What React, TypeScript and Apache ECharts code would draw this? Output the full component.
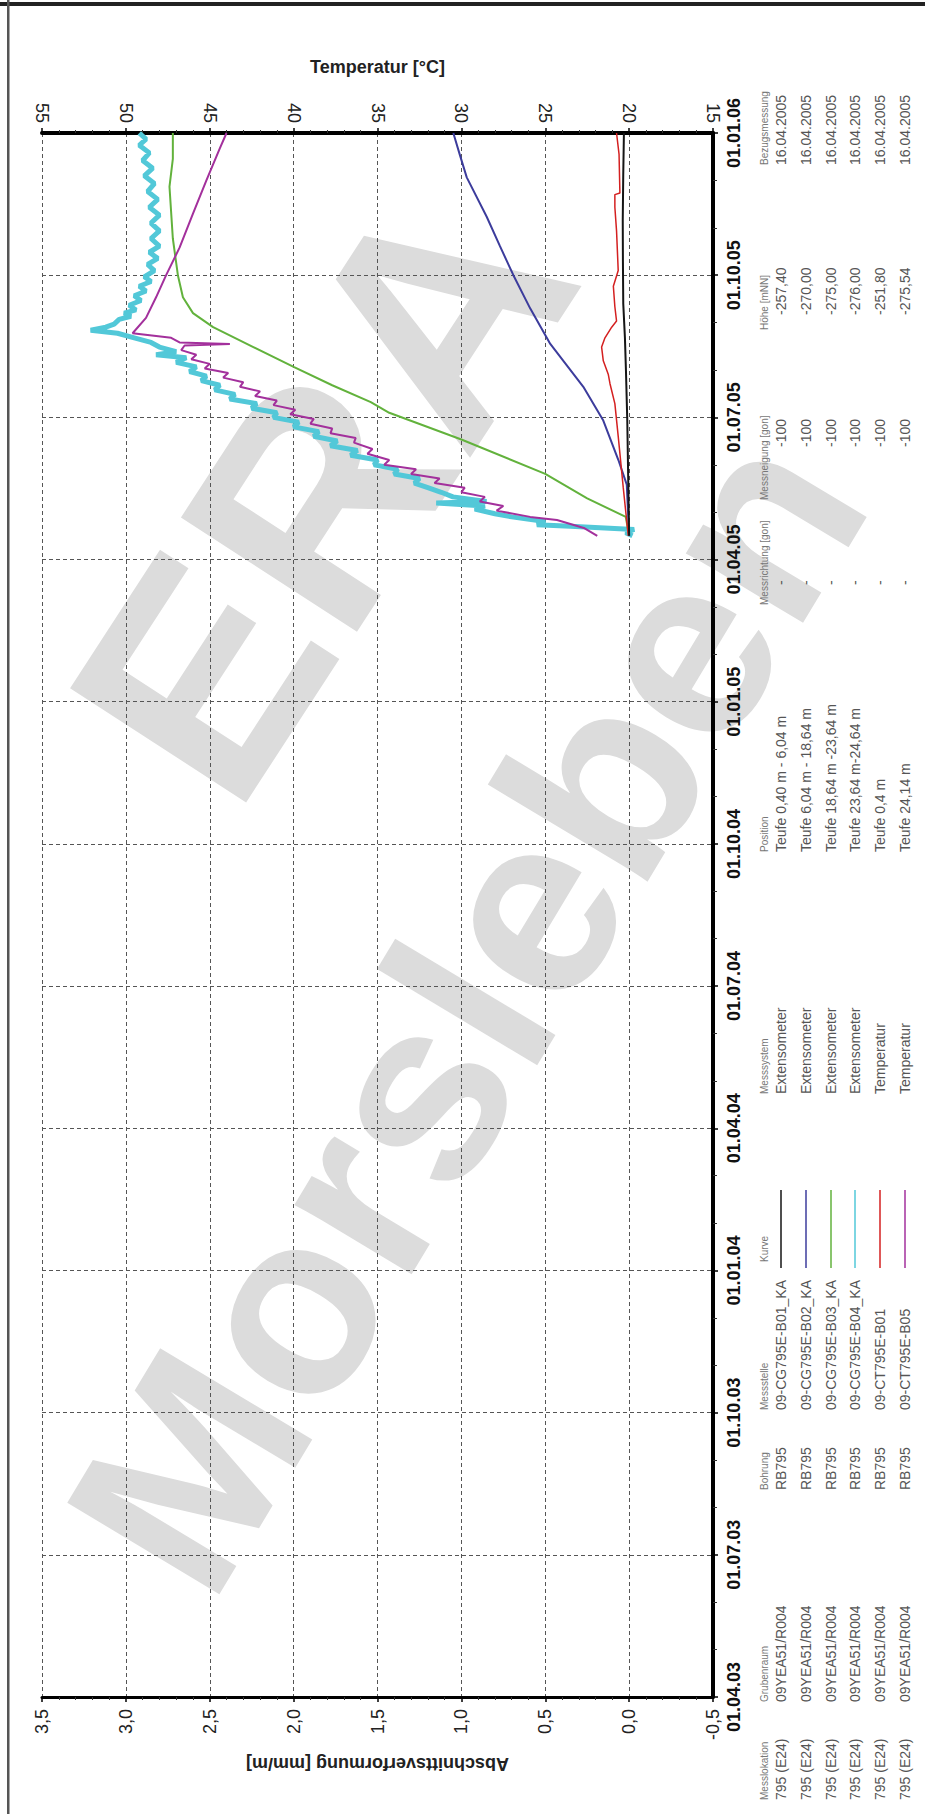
import React, { useEffect, useRef } from 'react';
import * as echarts from 'echarts';

const FONT = "'Liberation Sans', Arial, Helvetica, sans-serif";

// ---- tick labels ----
const dateTickLabels = ['01.04.03', '01.07.03', '01.10.03', '01.01.04', '01.04.04', '01.07.04', '01.10.04', '01.01.05', '01.04.05', '01.07.05', '01.10.05', '01.01.06'];
const strainTickLabels = ['-0,5', '0,0', '0,5', '1,0', '1,5', '2,0', '2,5', '3,0', '3,5'];
const tempTickLabels = ['15', '20', '25', '30', '35', '40', '45', '50', '55'];

// ---- series data: [date, value] ----
// Extensometer B01 (0,40 m - 6,04 m) [mm/m]
const extB01: [string, number][] = [
  ['2005-04-16', 0.0], ['2005-05-20', 0.005], ['2005-06-29', 0.011], ['2005-08-01', 0.019], ['2005-08-22', 0.025],
  ['2005-09-13', 0.035], ['2005-10-10', 0.037], ['2005-11-06', 0.038], ['2005-12-05', 0.035], ['2006-01-01', 0.031],
];
// Extensometer B02 (6,04 m - 18,64 m) [mm/m]
const extB02: [string, number][] = [
  ['2005-04-16', 0.0], ['2005-05-19', 0.014], ['2005-06-04', 0.064], ['2005-06-29', 0.154], ['2005-07-21', 0.273],
  ['2005-08-18', 0.47], ['2005-09-10', 0.59], ['2005-10-01', 0.69], ['2005-10-20', 0.77], ['2005-11-08', 0.849],
  ['2005-12-03', 0.968], ['2005-12-18', 1.01], ['2006-01-01', 1.048],
];
// Extensometer B03 (18,64 m - 23,64 m) [mm/m]
const extB03: [string, number][] = [
  ['2005-04-16', 0.0], ['2005-04-28', 0.02], ['2005-05-10', 0.25], ['2005-05-26', 0.5], ['2005-06-17', 1.0],
  ['2005-07-04', 1.43], ['2005-07-11', 1.54], ['2005-07-22', 1.77], ['2005-08-03', 2.0], ['2005-08-16', 2.24],
  ['2005-08-29', 2.48], ['2005-09-07', 2.6], ['2005-09-17', 2.66], ['2005-10-01', 2.69], ['2005-10-25', 2.72],
  ['2005-11-27', 2.74], ['2005-12-15', 2.72], ['2006-01-01', 2.72],
];
// Extensometer B04 (23,64 m - 24,64 m) [mm/m]
const extB04: [string, number][] = [
  ['2005-04-16', -0.02], ['2005-04-18', 0.02], ['2005-04-20', -0.03], ['2005-04-22', 0.35], ['2005-04-23', 0.55],
  ['2005-04-25', 0.5], ['2005-04-28', 0.7], ['2005-04-30', 0.8], ['2005-05-03', 0.92], ['2005-05-05', 0.86],
  ['2005-05-07', 1.15], ['2005-05-08', 0.85], ['2005-05-11', 1.05], ['2005-05-14', 1.12], ['2005-05-17', 1.2],
  ['2005-05-20', 1.28], ['2005-05-23', 1.25], ['2005-05-26', 1.4], ['2005-05-29', 1.38], ['2005-06-01', 1.52],
  ['2005-06-04', 1.5], ['2005-06-07', 1.66], ['2005-06-10', 1.62], ['2005-06-13', 1.78], ['2005-06-16', 1.74],
  ['2005-06-19', 1.88], ['2005-06-22', 1.85], ['2005-06-25', 2.0], ['2005-06-28', 1.97], ['2005-07-01', 2.12],
  ['2005-07-04', 2.1], ['2005-07-07', 2.25], ['2005-07-10', 2.22], ['2005-07-13', 2.38], ['2005-07-16', 2.35],
  ['2005-07-19', 2.47], ['2005-07-22', 2.44], ['2005-07-25', 2.55], ['2005-07-28', 2.52], ['2005-07-31', 2.62],
  ['2005-08-03', 2.58], ['2005-08-06', 2.7], ['2005-08-09', 2.64], ['2005-08-11', 2.82], ['2005-08-13', 2.7],
  ['2005-08-16', 2.8], ['2005-08-19', 2.85], ['2005-08-22', 2.95], ['2005-08-25', 3.05], ['2005-08-27', 3.21],
  ['2005-08-29', 3.12], ['2005-08-31', 3.07], ['2005-09-03', 3.04], ['2005-09-05', 2.97], ['2005-09-07', 3.01],
  ['2005-09-09', 2.94], ['2005-09-12', 2.98], ['2005-09-15', 2.91], ['2005-09-18', 2.95], ['2005-09-21', 2.88],
  ['2005-09-24', 2.92], ['2005-09-27', 2.85], ['2005-09-30', 2.89], ['2005-10-04', 2.83], ['2005-10-08', 2.87],
  ['2005-10-12', 2.81], ['2005-10-16', 2.86], ['2005-10-20', 2.8], ['2005-10-25', 2.85], ['2005-10-30', 2.8],
  ['2005-11-04', 2.85], ['2005-11-09', 2.8], ['2005-11-14', 2.86], ['2005-11-19', 2.81], ['2005-11-24', 2.87],
  ['2005-11-29', 2.83], ['2005-12-04', 2.89], ['2005-12-09', 2.84], ['2005-12-14', 2.9], ['2005-12-19', 2.86],
  ['2005-12-24', 2.92], ['2005-12-28', 2.88], ['2006-01-01', 2.92],
];
// Temperatur B01 (Teufe 0,4 m) [°C]
const tempB01: [string, number][] = [
  ['2005-04-16', 20.05], ['2005-05-17', 20.35], ['2005-06-19', 20.65], ['2005-07-10', 20.85], ['2005-07-23', 21.14],
  ['2005-07-29', 21.24], ['2005-08-07', 21.54], ['2005-08-16', 21.64], ['2005-08-22', 21.44], ['2005-08-29', 21.04],
  ['2005-09-02', 20.75], ['2005-09-11', 20.85], ['2005-09-24', 20.94], ['2005-10-04', 20.65], ['2005-10-30', 20.75],
  ['2005-11-14', 20.85], ['2005-11-22', 20.85], ['2005-11-23', 20.55], ['2005-12-18', 20.6], ['2006-01-01', 20.75],
];
// Temperatur B05 (Teufe 24,14 m) [°C]
const tempB05: [string, number][] = [
  ['2005-04-16', 21.9], ['2005-04-21', 22.7], ['2005-04-26', 24.3], ['2005-04-28', 25.9], ['2005-05-02', 27.9],
  ['2005-05-05', 27.5], ['2005-05-08', 28.9], ['2005-05-11', 28.6], ['2005-05-14', 30.0], ['2005-05-17', 29.8],
  ['2005-05-20', 31.6], ['2005-05-23', 31.3], ['2005-05-26', 33.0], ['2005-05-29', 32.7], ['2005-06-01', 34.6],
  ['2005-06-04', 34.3], ['2005-06-08', 35.6], ['2005-06-11', 35.3], ['2005-06-15', 36.4], ['2005-06-18', 36.3],
  ['2005-06-21', 37.8], ['2005-06-24', 37.7], ['2005-06-27', 39.0], ['2005-06-30', 38.8], ['2005-07-03', 40.2],
  ['2005-07-06', 39.9], ['2005-07-09', 41.2], ['2005-07-12', 41.0], ['2005-07-15', 42.3], ['2005-07-18', 42.0],
  ['2005-07-21', 43.2], ['2005-07-24', 43.0], ['2005-07-27', 44.2], ['2005-07-30', 43.9], ['2005-08-02', 45.3],
  ['2005-08-05', 45.0], ['2005-08-08', 46.1], ['2005-08-11', 45.8], ['2005-08-14', 46.7], ['2005-08-17', 46.5],
  ['2005-08-18', 43.8], ['2005-08-19', 46.8], ['2005-08-22', 47.3], ['2005-08-25', 49.6], ['2005-09-04', 48.8],
  ['2005-09-17', 48.2], ['2005-10-01', 47.6], ['2005-10-19', 46.8], ['2005-11-10', 46.0], ['2005-12-01', 45.2],
  ['2005-12-22', 44.4], ['2006-01-01', 44.0],
];

// ---- legend table ----
const colMesslokation = ['795 (E24)', '795 (E24)', '795 (E24)', '795 (E24)', '795 (E24)', '795 (E24)'];
const colGrubenraum = ['09YEA51/R004', '09YEA51/R004', '09YEA51/R004', '09YEA51/R004', '09YEA51/R004', '09YEA51/R004'];
const colBohrung = ['RB795', 'RB795', 'RB795', 'RB795', 'RB795', 'RB795'];
const colMessstelle = ['09-CG795E-B01_KA', '09-CG795E-B02_KA', '09-CG795E-B03_KA', '09-CG795E-B04_KA', '09-CT795E-B01', '09-CT795E-B05'];
const colMesssystem = ['Extensometer', 'Extensometer', 'Extensometer', 'Extensometer', 'Temperatur', 'Temperatur'];
const colPosition = ['Teufe 0,40 m - 6,04 m', 'Teufe 6,04 m - 18,64 m', 'Teufe 18,64 m -23,64 m', 'Teufe 23,64 m-24,64 m', 'Teufe 0,4 m', 'Teufe 24,14 m'];
const colMessrichtung = ['-', '-', '-', '-', '-', '-'];
const colMessneigung = ['-100', '-100', '-100', '-100', '-100', '-100'];
const colHoehe = ['-257,40', '-270,00', '-275,00', '-276,00', '-251,80', '-275,54'];
const colBezug = ['16.04.2005', '16.04.2005', '16.04.2005', '16.04.2005', '16.04.2005', '16.04.2005'];

const seriesColors = ['#151515', '#3c3c9c', '#62b23c', '#52c8d8', '#d42020', '#a3309c'];

function monthIndex(d: string): number {
  const [y, m, day] = d.split('-').map(Number);
  const dim = new Date(y, m, 0).getDate();
  return (y - 2003) * 12 + (m - 4) + (day - 1) / dim;
}

function rotText(text: string, x: number, y: number, size: number, color: string, weight: string = 'normal') {
  return {
    type: 'text', x, y, rotation: Math.PI / 2, z: 10, silent: true,
    style: { text, fontSize: size, fontFamily: FONT, fontWeight: weight, fill: color, align: 'left', verticalAlign: 'middle' },
  };
}

export default function App() {
  const ref = useRef<HTMLDivElement>(null);

  useEffect(() => {
    if (!ref.current) return;
    const chart = echarts.init(ref.current, undefined, { renderer: 'svg' });

    const headerX = 764;
    const rowX = [781, 806, 831, 855, 880, 905];
    const headColor = '#777';
    const rowColor = '#555';
    const legend: any[] = [];
    const cols: { header: string; hs: number; vs: number; values: string[] | null }[] = [
      { header: 'Messlokation', hs: 1800, vs: 1800, values: colMesslokation },
      { header: 'Grubenraum', hs: 1702, vs: 1702, values: colGrubenraum },
      { header: 'Bohrung', hs: 1490, vs: 1490, values: colBohrung },
      { header: 'Messstelle', hs: 1410, vs: 1410, values: colMessstelle },
      { header: 'Kurve', hs: 1262, vs: 1262, values: null },
      { header: 'Messsystem', hs: 1094, vs: 1094, values: colMesssystem },
      { header: 'Position', hs: 852, vs: 852, values: colPosition },
      { header: 'Messrichtung [gon]', hs: 605, vs: 585, values: colMessrichtung },
      { header: 'Messneigung [gon]', hs: 500, vs: 447, values: colMessneigung },
      { header: 'Höhe [mNN]', hs: 330, vs: 315, values: colHoehe },
      { header: 'Bezugsmessung', hs: 165, vs: 165, values: colBezug },
    ];
    cols.forEach((c) => {
      legend.push(rotText(c.header, headerX, c.hs, 10, headColor));
      if (c.values) {
        c.values.forEach((v, i) => legend.push(rotText(v, rowX[i], c.vs, 14, rowColor)));
      } else {
        rowX.forEach((x, i) =>
          legend.push({
            type: 'line', z: 10, silent: true,
            shape: { x1: x, y1: 1268, x2: x, y2: 1190 },
            style: { stroke: seriesColors[i], lineWidth: 1.5 },
          })
        );
      }
    });

    const toXY = (arr: [string, number][]) => arr.map(([d, v]) => [v, monthIndex(d)]);

    const gridDash = { color: '#555', width: 1, type: [4, 3] as any };

    chart.setOption({
      animation: false,
      backgroundColor: '#ffffff',
      textStyle: { fontFamily: FONT },
      grid: { left: 42, right: 212, top: 133, bottom: 117, containLabel: false },
      xAxis: [
        {
          type: 'value', position: 'bottom', min: -0.5, max: 3.5, interval: 0.5, inverse: true,
          axisLine: { show: true, onZero: false, lineStyle: { color: '#000', width: 3 } },
          axisTick: { show: true, length: 5, lineStyle: { color: '#000', width: 1.5 } },
          minorTick: { show: true, splitNumber: 5, length: 3, lineStyle: { color: '#333' } },
          axisLabel: {
            rotate: 90, margin: 12, fontSize: 18, color: '#222', fontFamily: FONT,
            formatter: (v: number) => strainTickLabels[Math.round((v + 0.5) / 0.5)] ?? '',
          },
          splitLine: { show: true, lineStyle: gridDash },
          name: 'Abschnittsverformung [mm/m]', nameLocation: 'middle', nameGap: 58, nameRotate: 180,
          nameTextStyle: { fontSize: 18, fontWeight: 'bold', color: '#222', fontFamily: FONT },
        },
        {
          type: 'value', position: 'top', min: 15, max: 55, interval: 5, inverse: true,
          axisLine: { show: true, onZero: false, lineStyle: { color: '#000', width: 4 } },
          axisTick: { show: true, length: 5, lineStyle: { color: '#000', width: 1.5 } },
          minorTick: { show: true, splitNumber: 5, length: 3, lineStyle: { color: '#333' } },
          axisLabel: {
            rotate: 90, margin: 10, fontSize: 18, color: '#222', fontFamily: FONT,
            formatter: (v: number) => tempTickLabels[Math.round((v - 15) / 5)] ?? '',
          },
          splitLine: { show: false },
          name: 'Temperatur [°C]', nameLocation: 'middle', nameGap: 57,
          nameTextStyle: { fontSize: 18, fontWeight: 'bold', color: '#222', fontFamily: FONT },
        },
      ],
      yAxis: {
        type: 'value', position: 'right', min: 0, max: 33, interval: 3,
        axisLine: { show: true, onZero: false, lineStyle: { color: '#000', width: 4 } },
        axisTick: { show: true, length: 5, lineStyle: { color: '#000', width: 1.5 } },
        minorTick: { show: true, splitNumber: 3, length: 4, lineStyle: { color: '#333' } },
        axisLabel: {
          rotate: 90, margin: 12, fontSize: 18, fontWeight: 'bold', color: '#111', fontFamily: FONT,
          formatter: (v: number) => dateTickLabels[Math.round(v / 3)] ?? '',
        },
        splitLine: { show: true, lineStyle: gridDash },
      },
      series: [
        { name: '09-CG795E-B04_KA', type: 'line', xAxisIndex: 0, data: toXY(extB04), showSymbol: false, z: 2,
          lineStyle: { color: seriesColors[3], width: 5 }, itemStyle: { color: seriesColors[3] } },
        { name: '09-CG795E-B03_KA', type: 'line', xAxisIndex: 0, data: toXY(extB03), showSymbol: false, z: 3,
          lineStyle: { color: seriesColors[2], width: 2 }, itemStyle: { color: seriesColors[2] } },
        { name: '09-CG795E-B02_KA', type: 'line', xAxisIndex: 0, data: toXY(extB02), showSymbol: false, z: 3,
          lineStyle: { color: seriesColors[1], width: 2 }, itemStyle: { color: seriesColors[1] } },
        { name: '09-CT795E-B01', type: 'line', xAxisIndex: 1, data: toXY(tempB01), showSymbol: false, z: 3,
          lineStyle: { color: seriesColors[4], width: 1.5 }, itemStyle: { color: seriesColors[4] } },
        { name: '09-CG795E-B01_KA', type: 'line', xAxisIndex: 0, data: toXY(extB01), showSymbol: false, z: 4,
          lineStyle: { color: seriesColors[0], width: 2 }, itemStyle: { color: seriesColors[0] } },
        { name: '09-CT795E-B05', type: 'line', xAxisIndex: 1, data: toXY(tempB05), showSymbol: false, z: 5,
          lineStyle: { color: seriesColors[5], width: 2 }, itemStyle: { color: seriesColors[5] } },
      ],
      graphic: [
        { type: 'text', x: 322, y: 492, rotation: (57 * Math.PI) / 180, z: -5, silent: true,
          style: { text: 'ERA', fontSize: 305, fontWeight: 'bold', fontFamily: FONT, fill: '#dcdcdc', align: 'center', verticalAlign: 'middle' } },
        { type: 'text', x: 466, y: 1010, rotation: (59 * Math.PI) / 180, z: -5, silent: true,
          style: { text: 'Morsleben', fontSize: 258, fontWeight: 'bold', fontFamily: FONT, fill: '#dcdcdc', align: 'center', verticalAlign: 'middle' } },
        { type: 'rect', shape: { x: 0, y: 2, width: 925, height: 4 }, style: { fill: '#222' }, silent: true, z: 10 },
        { type: 'rect', shape: { x: 7, y: 0, width: 2.5, height: 1814 }, style: { fill: '#555' }, silent: true, z: 10 },
        ...legend,
      ],
    });

    return () => chart.dispose();
  }, []);

  return (
    <div
      ref={ref}
      style={{ position: 'absolute', left: 0, top: 0, width: 925, height: 1814, background: '#fff' }}
    />
  );
}
